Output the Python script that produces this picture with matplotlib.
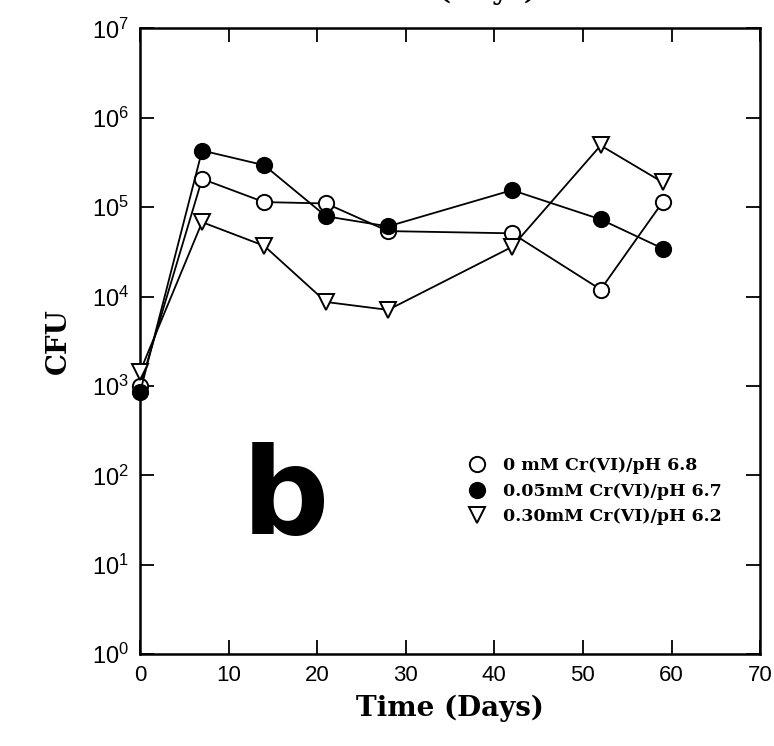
import numpy as np
import matplotlib
matplotlib.use("Agg")
import matplotlib.pyplot as plt

# sampling days and CFU counts
days = [0, 7, 14, 21, 28, 42, 52, 59]
cfu_0mM = [1.0e3, 2.07e5, 1.14e5, 1.1e5, 5.4e4, 5.1e4, 1.2e4, 1.14e5]
cfu_005mM = [850, 4.3e5, 2.95e5, 7.9e4, 6.1e4, 1.55e5, 7.3e4, 3.45e4]
cfu_030mM = [1.45e3, 6.8e4, 3.7e4, 8.7e3, 7.1e3, 3.6e4, 4.9e5, 1.9e5]
labels = ['0 mM Cr(VI)/pH 6.8', '0.05mM Cr(VI)/pH 6.7', '0.30mM Cr(VI)/pH 6.2']

xticks = [0, 10, 20, 30, 40, 50, 60, 70]
yticks = [1e0, 1e1, 1e2, 1e3, 1e4, 1e5, 1e6, 1e7]

plt.rcParams['font.family'] = ['Liberation Sans', 'DejaVu Sans']
plt.rcParams['mathtext.fontset'] = 'custom'
plt.rcParams['mathtext.rm'] = 'Liberation Sans'

fig = plt.figure(figsize=(7.74, 7.46), dpi=100)
ax = fig.add_axes([0.181, 0.123, 0.801, 0.839])

ms = 11
ax.plot(days, cfu_0mM, '-o', color='black', mfc='white', mec='black',
        ms=ms, mew=1.4, lw=1.3, label=labels[0], zorder=3, clip_on=False)
ax.plot(days, cfu_005mM, '-o', color='black', mfc='black', mec='black',
        ms=ms, mew=1.4, lw=1.3, label=labels[1], zorder=3, clip_on=False)
ax.plot(days, cfu_030mM, '-v', color='black', mfc='white', mec='black',
        ms=ms, mew=1.4, lw=1.3, label=labels[2], zorder=3, clip_on=False)

ax.set_yscale('log')
ax.set_xlim(0, 70)
ax.set_ylim(1e0, 1e7)
ax.set_xticks(xticks)
ax.set_yticks(yticks)
ax.set_yticklabels([r'$\mathregular{10^{%d}}$' % int(np.log10(v)) for v in yticks])
ax.yaxis.set_minor_locator(matplotlib.ticker.NullLocator())
ax.tick_params(axis='both', which='major', direction='in', length=10, width=1.3,
               top=True, right=True, pad=8)
ax.tick_params(axis='x', labelsize=16)
ax.tick_params(axis='y', labelsize=17)
for s in ax.spines.values():
    s.set_linewidth(1.8)

ax.set_xlabel('Time (Days)', family='DejaVu Serif', fontweight='bold',
              fontsize=20, labelpad=6)
ax.set_ylabel('CFU', family='DejaVu Serif', fontweight='bold',
              fontsize=20, labelpad=14)

# big panel letter
ax.text(16.4, 10**1.72, 'b', fontsize=88, fontweight='heavy',
        ha='center', va='center', family='DejaVu Sans')

leg = ax.legend(loc='upper left', bbox_to_anchor=(0.505, 0.34), frameon=False,
                handlelength=1.0, handletextpad=0.95, labelspacing=0.5,
                prop={'family': 'DejaVu Serif', 'weight': 'bold', 'size': 12.5})
for h in leg.legend_handles:
    h.set_linestyle('none')

# remnant of the panel above, clipped at the top edge
fig.text(0.63, 1.012, '(Days)', family='DejaVu Serif', fontweight='bold',
         fontsize=20, ha='center', va='center')

fig.savefig('out.png', dpi=100)
